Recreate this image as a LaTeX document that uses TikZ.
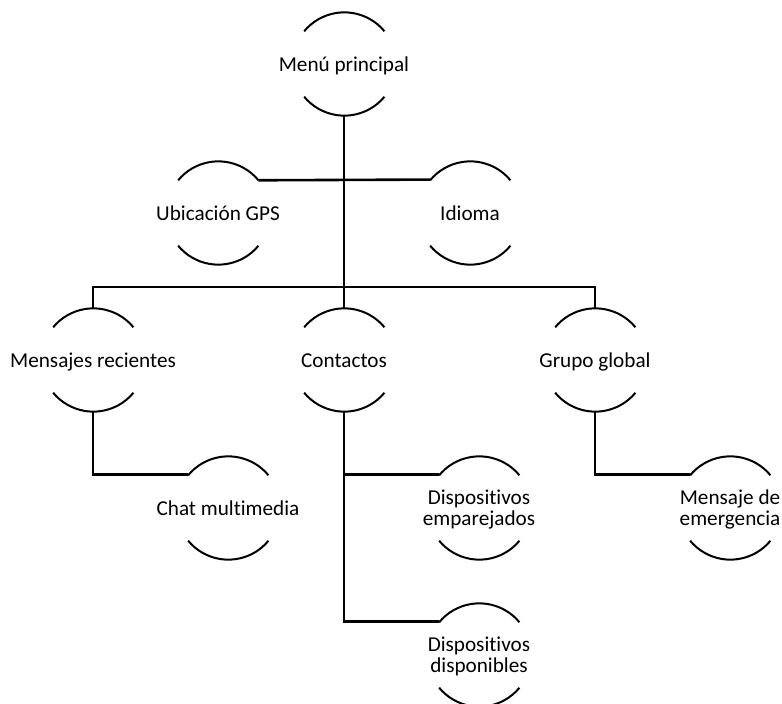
\documentclass[tikz,border=0pt]{standalone}
\usepackage{fontspec}
\setmainfont{Carlito}[Ligatures=NoCommon]
\begin{document}
\begin{tikzpicture}[x=1pt, y=-1pt,
  topic/.style={circle, minimum size=104pt, inner sep=0pt, outer sep=0pt},
  txt/.style={font=\fontsize{21.2}{20.5}\selectfont, align=center, inner sep=0pt, anchor=base},
  arcline/.style={line width=2pt},
  link/.style={line width=2.6pt}]
\useasboundingbox (0,0) rectangle (782,704);

% topic frames
\node[topic] (menu) at (344,64) {};
\node[topic] (gps) at (218,213) {};
\node[topic] (idioma) at (470,213) {};
\node[topic] (mensajes) at (93,360) {};
\node[topic] (contactos) at (344,360) {};
\node[topic] (grupo) at (595,360) {};
\node[topic] (chat) at (228,508) {};
\node[topic] (empar) at (479,508) {};
\node[topic] (disp) at (479,655) {};
\node[topic] (emerg) at (730,508) {};

% topic texts; the base of a two-line text is its last line
\node[txt] (menut) at ([yshift=-7pt]menu.center) {Menú principal};
\node[txt] (gpst) at ([yshift=-7pt]gps.center) {Ubicación GPS};
\node[txt] (idiomat) at ([yshift=-7pt]idioma.center) {Idioma};
\node[txt] (mensajest) at ([yshift=-7pt]mensajes.center) {Mensajes recientes};
\node[txt] (contactost) at ([yshift=-7pt]contactos.center) {Contactos};
\node[txt] (grupot) at ([yshift=-7pt]grupo.center) {Grupo global};
\node[txt] (chatt) at ([yshift=-7pt]chat.center) {Chat multimedia};
\node[txt] (empart) at ([yshift=-17pt]empar.center) {Dispositivos\\emparejados};
\node[txt] (dispt) at ([yshift=-17pt]disp.center) {Dispositivos\\disponibles};
\node[txt] (emergt) at ([yshift=-17pt]emerg.center) {Mensaje de\\emergencia};

% open arcs above and below each topic
\foreach \n in {menu,gps,idioma,mensajes,contactos,grupo,chat,empar,disp,emerg}{
  \draw[arcline] (\n.39.5) arc[start angle=39.5, end angle=140.5, radius=52pt];
  \draw[arcline] (\n.-39.5) arc[start angle=-39.5, end angle=-140.5, radius=52pt];
}

% connectors
\coordinate (bar) at (344,287);
\draw[link] (menu.south) -- (bar);
\draw[link] (gps.39.5) -- (idioma.140.5);
\draw[link] (mensajes.north) |- (bar) -| (grupo.north);
\draw[link] (contactos.north) -- (bar);
\draw[link] (mensajes.south) |- (chat.140.5);
\draw[link] (contactos.south) |- (disp.140.5);
\draw[link] (contactos.south |- empar.140.5) -- (empar.140.5);
\draw[link] (grupo.south) |- (emerg.140.5);
\end{tikzpicture}
\end{document}
